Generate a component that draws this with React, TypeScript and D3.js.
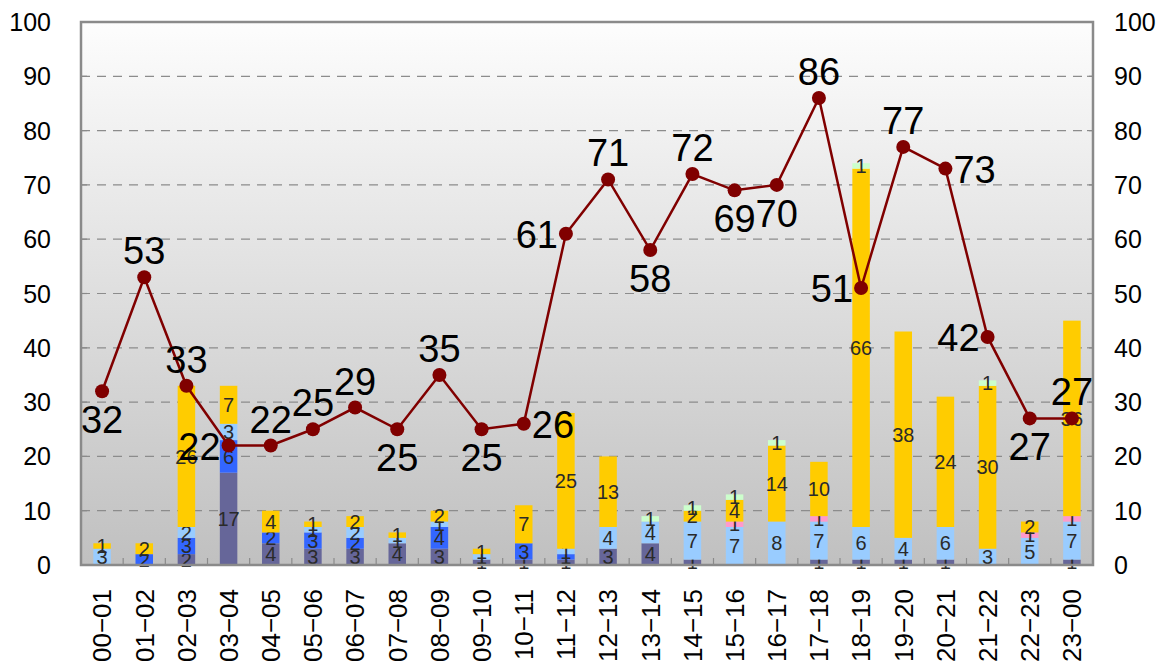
import * as d3 from 'd3';
import * as React from 'react';

const { useRef, useEffect } = React;

const width = 1174;
const height = 666;
const margin = { top: 22, right: 81, bottom: 101, left: 81 };

const hours = [
  '00−01', '01−02', '02−03', '03−04', '04−05', '05−06', '06−07', '07−08',
  '08−09', '09−10', '10−11', '11−12', '12−13', '13−14', '14−15', '15−16',
  '16−17', '17−18', '18−19', '19−20', '20−21', '21−22', '22−23', '23−00',
];

// stacked series, bottom to top
const slate = [0, 0, 2, 17, 4, 3, 3, 4, 3, 1, 1, 1, 3, 4, 1, 0, 0, 1, 1, 1, 1, 0, 0, 1];
const blue = [0, 2, 3, 6, 2, 3, 2, 0, 4, 0, 3, 1, 0, 0, 0, 0, 0, 0, 0, 0, 0, 0, 0, 0];
const lightBlue = [3, 0, 2, 3, 0, 1, 2, 1, 1, 1, 0, 1, 4, 4, 7, 7, 8, 7, 6, 4, 6, 3, 5, 7];
const pink = [0, 0, 0, 0, 0, 0, 0, 0, 0, 0, 0, 0, 0, 0, 0, 1, 0, 1, 0, 0, 0, 0, 1, 1];
const yellow = [1, 2, 26, 7, 4, 1, 2, 1, 2, 1, 7, 25, 13, 0, 2, 4, 14, 10, 66, 38, 24, 30, 2, 36];
const green = [0, 0, 0, 0, 0, 0, 0, 0, 0, 0, 0, 0, 0, 1, 1, 1, 1, 0, 1, 0, 0, 1, 0, 0];

const lineValues = [32, 53, 33, 22, 22, 25, 29, 25, 35, 25, 26, 61, 71, 58, 72, 69, 70, 86, 51, 77, 73, 42, 27, 27];

const yTicks = [0, 10, 20, 30, 40, 50, 60, 70, 80, 90, 100];

const seriesKeys = ['slate', 'blue', 'lightBlue', 'pink', 'yellow', 'green'];
const seriesColors = ['#666699', '#3366ff', '#99ccff', '#ff99cc', '#ffcc00', '#ccffcc'];
const seriesData = [slate, blue, lightBlue, pink, yellow, green];

// where each line value label sits: t(op), b(ottom), l(eft), r(ight)
const labelPlacement = [
  'b', 't', 't', 'l', 't', 't', 't', 'b', 't', 'b', 'r', 'l',
  't', 'b', 't', 'b', 'b', 't', 'l', 't', 'r', 'l', 'b', 't',
];

export default function App() {
  const rootRef = useRef<SVGSVGElement>(null);

  useEffect(() => {
    const svg = d3.select(rootRef.current);
    svg.selectAll('*').remove();

    const x0 = margin.left;
    const x1 = width - margin.right;
    const y0 = height - margin.bottom;
    const y1 = margin.top;

    const x = d3.scaleBand().domain(hours).range([x0, x1]);
    const y = d3.scaleLinear().domain([0, 100]).range([y0, y1]);

    const defs = svg.append('defs');
    const grad = defs
      .append('linearGradient')
      .attr('id', 'bg')
      .attr('x1', 0)
      .attr('y1', 0)
      .attr('x2', 0)
      .attr('y2', 1);
    grad.append('stop').attr('offset', '0%').attr('stop-color', '#fdfdfd');
    grad.append('stop').attr('offset', '100%').attr('stop-color', '#c0c0c0');

    svg
      .append('rect')
      .attr('x', x0)
      .attr('y', y1)
      .attr('width', x1 - x0)
      .attr('height', y0 - y1)
      .attr('fill', 'url(#bg)');

    // gridlines
    svg
      .append('g')
      .selectAll('line')
      .data(yTicks.filter(t => t > 0 && t < 100))
      .join('line')
      .attr('x1', x0)
      .attr('x2', x1)
      .attr('y1', d => y(d))
      .attr('y2', d => y(d))
      .attr('stroke', '#8c8c8c')
      .attr('stroke-width', 1.2)
      .attr('stroke-dasharray', '9,7');

    // stacked bars
    const table = hours.map((h, i) => {
      const row: any = { hour: h };
      seriesKeys.forEach((k, j) => (row[k] = seriesData[j][i]));
      return row;
    });
    const stack = d3.stack().keys(seriesKeys)(table);
    const barW = 17.5;

    const layers = svg
      .append('g')
      .selectAll('g')
      .data(stack)
      .join('g')
      .attr('fill', (d, i) => seriesColors[i]);

    layers
      .selectAll('rect')
      .data(d => d.filter(s => s[1] - s[0] > 0))
      .join('rect')
      .attr('x', (d: any) => (x(d.data.hour) as number) + x.bandwidth() / 2 - barW / 2)
      .attr('width', barW)
      .attr('y', d => y(d[1]))
      .attr('height', d => y(d[0]) - y(d[1]));

    layers
      .selectAll('text')
      .data(d => d.filter(s => s[1] - s[0] > 0))
      .join('text')
      .attr('x', (d: any) => (x(d.data.hour) as number) + x.bandwidth() / 2)
      .attr('y', d => (y(d[0]) + y(d[1])) / 2)
      .attr('dy', '0.36em')
      .attr('text-anchor', 'middle')
      .attr('font-family', 'Liberation Sans, Arial, sans-serif')
      .attr('font-size', 20)
      .attr('fill', '#2a2a2a')
      .text(d => String(d[1] - d[0]));

    // frame
    svg
      .append('rect')
      .attr('x', x0)
      .attr('y', y1)
      .attr('width', x1 - x0)
      .attr('height', y0 - y1)
      .attr('fill', 'none')
      .attr('stroke', '#8a8a8a')
      .attr('stroke-width', 2.5);

    // inner ticks
    const tickG = svg.append('g').attr('stroke', '#8a8a8a').attr('stroke-width', 1.2);
    tickG
      .selectAll('line.yl')
      .data(yTicks)
      .join('line')
      .attr('x1', x0)
      .attr('x2', x0 + 6)
      .attr('y1', d => y(d))
      .attr('y2', d => y(d));
    tickG
      .selectAll('line.yr')
      .data(yTicks)
      .enter()
      .append('line')
      .attr('x1', x1 - 6)
      .attr('x2', x1)
      .attr('y1', d => y(d))
      .attr('y2', d => y(d));
    tickG
      .selectAll('line.xt')
      .data(hours.slice(1))
      .enter()
      .append('line')
      .attr('x1', d => x(d) as number)
      .attr('x2', d => x(d) as number)
      .attr('y1', y0)
      .attr('y2', y0 - 7);

    // y axis labels
    const axisFont = 'Liberation Sans, Arial, sans-serif';
    svg
      .append('g')
      .selectAll('text')
      .data(yTicks)
      .join('text')
      .attr('x', 51)
      .attr('y', d => y(d))
      .attr('dy', '0.36em')
      .attr('text-anchor', 'end')
      .attr('font-family', axisFont)
      .attr('font-size', 25)
      .text(d => d);
    svg
      .append('g')
      .selectAll('text')
      .data(yTicks)
      .join('text')
      .attr('x', 1114)
      .attr('y', d => y(d))
      .attr('dy', '0.36em')
      .attr('text-anchor', 'start')
      .attr('font-family', axisFont)
      .attr('font-size', 25)
      .text(d => d);

    // x labels
    svg
      .append('g')
      .selectAll('text')
      .data(hours)
      .join('text')
      .attr('transform', d => `translate(${(x(d) as number) + x.bandwidth() / 2},${y0 + 24}) rotate(-90)`)
      .attr('dy', '0.36em')
      .attr('text-anchor', 'end')
      .attr('font-family', axisFont)
      .attr('font-size', 26)
      .text(d => d);

    // line
    const cx = (i: number) => (x(hours[i]) as number) + x.bandwidth() / 2;
    const line = d3
      .line<number>()
      .x((d, i) => cx(i))
      .y(d => y(d));
    svg
      .append('path')
      .datum(lineValues)
      .attr('d', line)
      .attr('fill', 'none')
      .attr('stroke', '#800000')
      .attr('stroke-width', 2.5);
    svg
      .append('g')
      .selectAll('circle')
      .data(lineValues)
      .join('circle')
      .attr('cx', (d, i) => cx(i))
      .attr('cy', d => y(d))
      .attr('r', 7)
      .attr('fill', '#800000');

    svg
      .append('g')
      .selectAll('text')
      .data(lineValues)
      .join('text')
      .attr('x', (d, i) => {
        const p = labelPlacement[i];
        if (p === 'l') return cx(i) - 8;
        if (p === 'r') return cx(i) + 8;
        return cx(i);
      })
      .attr('y', (d, i) => {
        const p = labelPlacement[i];
        if (p === 't') return y(d) - 13;
        if (p === 'b') return y(d) + 42;
        return y(d) + 14;
      })
      .attr('text-anchor', (d, i) => {
        const p = labelPlacement[i];
        return p === 'l' ? 'end' : p === 'r' ? 'start' : 'middle';
      })
      .attr('font-family', axisFont)
      .attr('font-size', 38)
      .attr('fill', '#000')
      .text(d => d);
  }, []);

  return (
    <svg
      ref={rootRef}
      width={width}
      height={height}
      style={{ position: 'absolute', left: 0, top: 0, background: '#fff' }}
    />
  );
}
